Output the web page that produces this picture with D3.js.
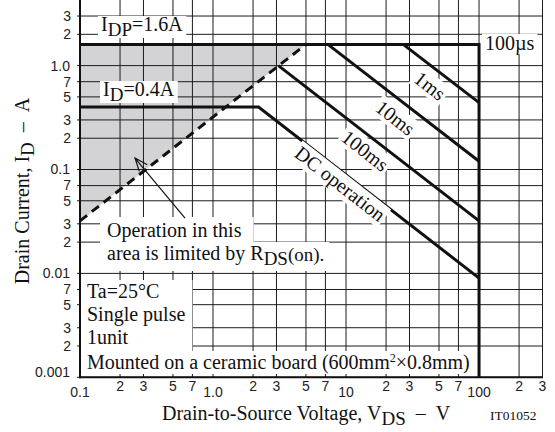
<!DOCTYPE html>
<html>
<head>
<meta charset="utf-8">
<script src="https://cdn.jsdelivr.net/npm/d3@7"></script>
<style>
  body { margin: 0; background: #fff; }
  svg { display: block; }
  .serif { font-family: "Liberation Serif", "Times New Roman", serif; fill: #111; }
  .tick-label { font-family: "Liberation Sans", Arial, sans-serif; font-size: 14px; fill: #222; }
</style>
</head>
<body>
<div id="chart"></div>
<script>
// Axis ticks
const xMajor = [0.1, 1, 10, 100]
const xMajorLabels = ['0.1', '1.0', '10', '100']
const xMinor = [0.2, 0.3, 0.5, 0.7, 2, 3, 5, 7, 20, 30, 50, 70, 200, 300]
const yMajor = [0.001, 0.01, 0.1, 1]
const yMajorLabels = ['0.001', '0.01', '0.1', '1.0']
const yMinor = [0.002, 0.003, 0.005, 0.007, 0.02, 0.03, 0.05, 0.07, 0.2, 0.3, 0.5, 0.7, 2, 3]

// SOA curves, [V, A]
const pulse100us = [[0.1, 1.6], [100, 1.6], [100, 0.001]]
const pulse1ms = [[26.9, 1.6], [100, 0.44]]
const pulse10ms = [[7.3, 1.6], [100, 0.12]]
const pulse100ms = [[3.1, 1.0], [100, 0.032]]
const dcOperation = [[0.1, 0.4], [2.2, 0.4], [100, 0.009]]
const rdsLimit = [[0.1, 0.032], [5.0, 1.6]]
const rdsArea = [[0.1, 1.6], [5.0, 1.6], [0.1, 0.032]]

// curve labels: [V, A, text] (label centre)
const curveLabels = [
  [42.6, 0.635, '1ms'],
  [23.4, 0.313, '10ms'],
  [13.9, 0.151, '100ms'],
  [9.0, 0.0726, 'DC operation']
]
// arrow: tail, tip
const arrowPts = [[0.616, 0.034], [0.259, 0.129]]

const width = 555
const height = 432
const fs = 20
const svg = d3.select('#chart').append('svg')
  .attr('width', width)
  .attr('height', height)

const x = d3.scaleLog().domain([0.1, 300]).range([80, 542.5])
const y = d3.scaleLog().domain([0.001, 10]).range([377.3, -38.3])
const yTop = 0
const yBot = y(0.001)

const line = d3.line().x(d => x(d[0])).y(d => y(d[1]))

// shaded area limited by RDS(on)
svg.append('path')
  .attr('d', line(rdsArea) + 'Z')
  .attr('fill', '#d3d3d5')

// grid
const grid = svg.append('g').attr('stroke', '#1c1c1c').attr('stroke-width', 1)
grid.selectAll('.gv')
  .data([...xMajor, ...xMinor])
  .enter().append('line')
  .attr('x1', d => x(d)).attr('x2', d => x(d))
  .attr('y1', yTop).attr('y2', yBot)
grid.selectAll('.gh')
  .data([...yMajor, ...yMinor])
  .enter().append('line')
  .attr('x1', x(0.1) - 3).attr('x2', x(300))
  .attr('y1', d => y(d)).attr('y2', d => y(d))

// frame: left and bottom
svg.append('line')
  .attr('x1', x(0.1)).attr('x2', x(0.1)).attr('y1', yTop).attr('y2', yBot + 1)
  .attr('stroke', '#111').attr('stroke-width', 2)
svg.append('line')
  .attr('x1', x(0.1) - 1).attr('x2', x(300) + 0.5).attr('y1', yBot).attr('y2', yBot)
  .attr('stroke', '#111').attr('stroke-width', 2)

// label with white background box
function boxedText (parent, pad) {
  const b = parent.node().getBBox()
  parent.insert('rect', ':first-child')
    .attr('x', b.x - pad[3])
    .attr('y', b.y - pad[0])
    .attr('width', b.width + pad[1] + pad[3])
    .attr('height', b.height + pad[0] + pad[2])
    .attr('fill', '#fff')
}

// curves
const curves = svg.append('g')
  .attr('fill', 'none')
  .attr('stroke', '#111')
  .attr('stroke-width', 3)
curves.selectAll('path')
  .data([pulse100us, pulse1ms, pulse10ms, pulse100ms, dcOperation])
  .enter().append('path')
  .attr('d', line)
curves.append('path')
  .attr('d', line(rdsLimit))
  .attr('stroke-dasharray', '9,6')

// rotated curve labels
const angle = Math.atan2(y(0.1) - y(1), x(10) - x(1)) * 180 / Math.PI
curveLabels.forEach(d => {
  const g = svg.append('g')
    .attr('transform', `translate(${x(d[0])},${y(d[1])}) rotate(${angle})`)
  g.append('text')
    .attr('class', 'serif')
    .attr('font-size', fs)
    .attr('text-anchor', 'middle')
    .attr('dy', '0.33em')
    .text(d[2])
  boxedText(g, [0, 2, 0, 2])
})

// IDP / ID labels
const idp = svg.append('g')
const idpText = idp.append('text').attr('class', 'serif').attr('font-size', fs)
  .attr('x', 101).attr('y', 31)
idpText.append('tspan').text('I')
idpText.append('tspan').attr('dy', 5).attr('font-size', 19).text('DP')
idpText.append('tspan').attr('dy', -5).text('=1.6A')
boxedText(idp, [-3, 3, -2, 3])

const id = svg.append('g')
const idText = id.append('text').attr('class', 'serif').attr('font-size', fs)
  .attr('x', 103).attr('y', 96)
idText.append('tspan').text('I')
idText.append('tspan').attr('dy', 5).attr('font-size', 19).text('D')
idText.append('tspan').attr('dy', -5).text('=0.4A')
boxedText(id, [-3, 3, -2, 3])

const us = svg.append('g')
us.append('text').attr('class', 'serif').attr('font-size', fs)
  .attr('x', 485).attr('y', 50).text('100µs')
boxedText(us, [-2, 3, -1, 3])

// RDS(on) note
const note1 = svg.append('g')
note1.append('text').attr('class', 'serif').attr('font-size', fs)
  .attr('x', 107).attr('y', 237).text('Operation in this')
boxedText(note1, [2, 12, 2, 7])
const note2 = svg.append('g')
const note2Text = note2.append('text').attr('class', 'serif').attr('font-size', fs)
  .attr('x', 107).attr('y', 260)
note2Text.append('tspan').text('area is limited by R')
note2Text.append('tspan').attr('dy', 5).attr('font-size', 19).text('DS')
note2Text.append('tspan').attr('dy', -4).attr('font-size', 19).text('(on).')
boxedText(note2, [0, 5, 2, 7])

// arrow
const tail = [x(arrowPts[0][0]), y(arrowPts[0][1])]
const tip = [x(arrowPts[1][0]), y(arrowPts[1][1])]
const ang = Math.atan2(tail[1] - tip[1], tail[0] - tip[0])
const wing = a => [tip[0] + 14 * Math.cos(ang + a), tip[1] + 14 * Math.sin(ang + a)]
svg.append('path')
  .attr('d', d3.line()([tail, tip]) + 'M' + wing(0.38) + 'L' + tip + 'L' + wing(-0.38))
  .attr('fill', 'none')
  .attr('stroke', '#111')
  .attr('stroke-width', 1.2)

// conditions box
const cond = svg.append('g')
;[['Ta=25°C', 298], ['Single pulse', 321], ['1unit', 344]].forEach(d => {
  cond.append('text').attr('class', 'serif').attr('font-size', fs)
    .attr('x', 87).attr('y', d[1]).text(d[0])
})
boxedText(cond, [0, 7, 10, 6])
const mount = svg.append('g')
const mountText = mount.append('text').attr('class', 'serif').attr('font-size', fs)
  .attr('x', 87).attr('y', 369)
mountText.append('tspan').text('Mounted on a ceramic board (600mm')
mountText.append('tspan').attr('dy', -7).attr('font-size', 12).text('2')
mountText.append('tspan').attr('dy', 7).text('×0.8mm)')
boxedText(mount, [0, 4, 0, 6])

// tick labels
const mantissa = d => String(Math.round(d / Math.pow(10, Math.floor(Math.log10(d) + 1e-9))))
svg.selectAll('.xmaj')
  .data(xMajor)
  .enter().append('text')
  .attr('class', 'tick-label')
  .attr('x', d => x(d)).attr('y', 397)
  .attr('text-anchor', 'middle')
  .text((d, i) => xMajorLabels[i])
svg.selectAll('.xmin')
  .data(xMinor)
  .enter().append('text')
  .attr('class', 'tick-label')
  .attr('x', d => x(d)).attr('y', 391)
  .attr('text-anchor', 'middle')
  .text(mantissa)
svg.selectAll('.ymaj')
  .data(yMajor)
  .enter().append('text')
  .attr('class', 'tick-label')
  .attr('x', 70).attr('y', d => y(d) - (d === 0.001 ? 5 : 0))
  .attr('dy', '0.35em')
  .attr('text-anchor', 'end')
  .text((d, i) => yMajorLabels[i])
svg.selectAll('.ymin')
  .data(yMinor)
  .enter().append('text')
  .attr('class', 'tick-label')
  .attr('x', 71).attr('y', d => y(d))
  .attr('dy', '0.35em')
  .attr('text-anchor', 'end')
  .text(mantissa)

// axis titles
const xTitle = svg.append('text').attr('class', 'serif').attr('font-size', fs)
  .attr('x', 162).attr('y', 419.5)
xTitle.append('tspan').text('Drain-to-Source Voltage, V')
xTitle.append('tspan').attr('dy', 5).attr('font-size', 19).text('DS')
xTitle.append('tspan').attr('dy', -5).text('\u00a0\u00a0–\u00a0\u00a0V')

const yTitle = svg.append('text').attr('class', 'serif').attr('font-size', fs)
  .attr('transform', 'translate(29,191) rotate(-90)')
  .attr('text-anchor', 'middle')
yTitle.append('tspan').text('Drain Current, I')
yTitle.append('tspan').attr('dy', 5).attr('font-size', 19).text('D')
yTitle.append('tspan').attr('dy', -5).text('\u00a0\u00a0–\u00a0\u00a0A')

svg.append('text').attr('class', 'serif').attr('font-size', 13.5)
  .attr('x', 490).attr('y', 419.5).text('IT01052')
</script>
</body>
</html>
